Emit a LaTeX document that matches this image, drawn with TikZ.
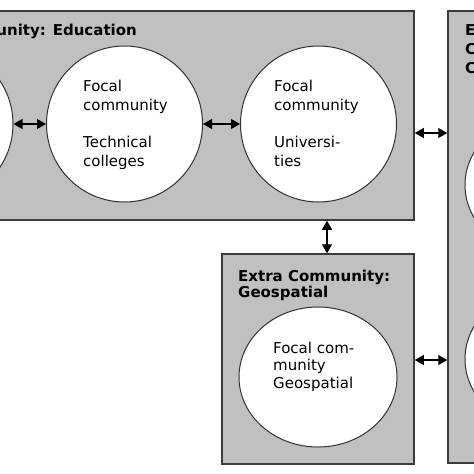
\documentclass[tikz,border=0pt]{standalone}
\usepackage{fontspec}
\setmainfont{DejaVu Sans}
\usetikzlibrary{arrows.meta,shapes.geometric}
\definecolor{boxfill}{RGB}{192,192,192}
\definecolor{boxline}{RGB}{60,60,60}
\definecolor{circline}{RGB}{50,50,50}
\tikzset{
  commbox/.style={draw=boxline,fill=boxfill,line width=1.5pt,rectangle,inner sep=0pt,minimum width=#1},
  circ/.style={draw=circline,fill=white,line width=1pt,circle,inner sep=0pt,minimum size=156pt},
  oval/.style={draw=circline,fill=white,line width=1pt,ellipse,inner sep=0pt,minimum width=158pt,minimum height=140pt},
  arr/.style={{Triangle[length=9pt,width=10pt]}-{Triangle[length=9pt,width=10pt]},line width=1.3pt,black},
  txt/.style={anchor=base west,inner sep=0pt,align=left,font=\fontsize{15}{19}\selectfont},
  gtxt/.style={anchor=base west,inner sep=0pt,align=left,font=\fontsize{15}{17.5}\selectfont},
  ttl/.style={anchor=base west,inner sep=0pt,align=left,font=\bfseries\fontsize{15}{16.5}\selectfont},
  rttl/.style={anchor=base west,inner sep=0pt,align=left,font=\bfseries\fontsize{15}{19}\selectfont},
}
\begin{document}
\begin{tikzpicture}[x=1pt,y=-1pt]
\useasboundingbox (0,0) rectangle (474,474);
\clip (0,0) rectangle (474,474);
\fill[white] (0,0) rectangle (474,474);
% boxes
\node[commbox=614pt,minimum height=209pt] (edu) at (107,115.5) {};
\node[commbox=192pt,minimum height=210pt] (geo) at (318,359) {};
\node[commbox=252pt,minimum height=452pt] (right) at (574,237) {};
% titles
\node[ttl,anchor=base east] (edutitle) at (137,35) {unity: Education};
\node[ttl] (geotitle) at (238,297.5) {Extra Community:\\Geospatial};
\node[rttl] (rtitle) at (465,73) {E\\C\\C};
% circles
\node[circ] (c0) at (-65,124) {};
\node[circ] (ctech) at (124.5,124) {};
\node[circ] (cuni) at (318.5,124) {};
\node[oval] (egeo) at (318,377) {};
\node[oval] (er1) at (544,185) {};
\node[oval] (er2) at (544,359) {};
% circle texts
\node[txt] (t1) at (83,110) {Focal\\community};
\node[txt] (t2) at (83,166) {Technical\\colleges};
\node[txt] (u1) at (274,110) {Focal\\community};
\node[txt] (u2) at (274,166) {Universi-\\ties};
\node[gtxt] (g1) at (273,388) {Focal com-\\munity\\Geospatial};
% connectors
\draw[arr] (c0) -- (ctech);
\draw[arr] (ctech) -- (cuni);
\draw[arr] (edu.east |- 0,133) -- (right.west |- 0,133);
\draw[arr] (edu.south -| 327,0) -- (geo.north -| 327,0);
\draw[arr] (geo.east |- 0,360) -- (right.west |- 0,360);
\end{tikzpicture}
\end{document}
